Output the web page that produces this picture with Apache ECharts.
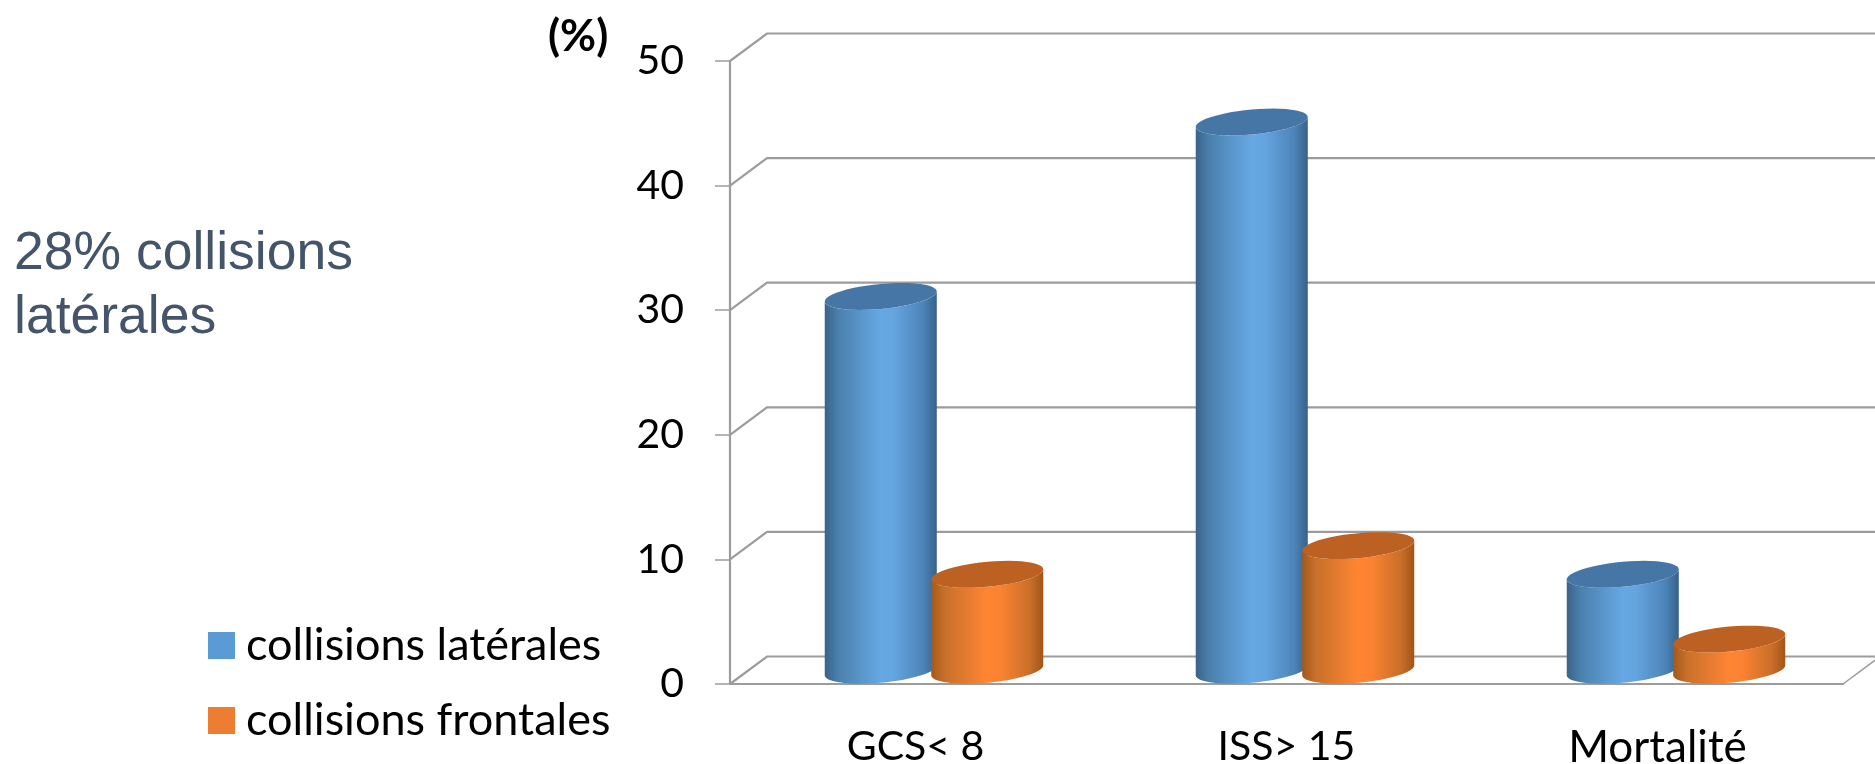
<!DOCTYPE html>
<html>
<head>
<meta charset="utf-8">
<style>html,body{margin:0;padding:0;background:#fff}#chart{width:1875px;height:764px}</style>
<script src="https://cdn.jsdelivr.net/npm/echarts@6/dist/echarts.min.js"></script>
</head>
<body>
<div id="chart"></div>
<script>
const categories = ['GCS< 8', 'ISS> 15', 'Mortalité'];
const collisionsLaterales = [30, 44, 7.7];
const collisionsFrontales = [7.7, 10, 2.5];
const valueTicks = [0, 10, 20, 30, 40, 50];

// Oblique projection of the chart's depth, in pixels.
const DEPTH_X = 37;
const DEPTH_Y = 27.5;
const AXIS_GREY = '#9c9c9c';

const BODY_BLUE = [[0, '#3a6288'], [0.12, '#4a80ad'], [0.5, '#66a8e4'], [0.62, '#64a4df'], [0.88, '#4c84b8'], [1, '#37618a']];
const BODY_ORANGE = [[0, '#a4581c'], [0.12, '#c8702a'], [0.5, '#ff8533'], [0.62, '#fb8232'], [0.88, '#c96f28'], [1, '#a15518']];

function ellipsePoints(cx, cy, rx, ry, tilt, from, to) {
  const pts = [];
  const n = 48;
  for (let i = 0; i <= n; i++) {
    const t = from + (to - from) * i / n;
    pts.push([cx + rx * Math.cos(t), cy + ry * Math.sin(t) - tilt * Math.cos(t)]);
  }
  return pts;
}

// Upright cylinder standing on the floor's mid-depth plane.
function cylinder(side, stops, topColor) {
  return function (params, api) {
    const band = api.size([1, 0])[0];
    const base = api.coord([api.value(0), 0]);
    const head = api.coord([api.value(0), api.value(1)]);
    const rx = band * 0.151;
    const cx = base[0] + DEPTH_X / 2 + side * band * 0.1435;
    const yBase = base[1] - DEPTH_Y / 2;
    const yHead = head[1] - DEPTH_Y / 2;
    const ry = 12.5;
    const tilt = 5;
    const wall = ellipsePoints(cx, yHead, rx, ry, tilt, Math.PI, 0)
      .concat(ellipsePoints(cx, yBase, rx, ry, tilt, 0, Math.PI));
    return {
      type: 'group',
      children: [
        {
          type: 'polygon',
          shape: { points: wall },
          style: {
            fill: new echarts.graphic.LinearGradient(0, 0, 1, 0,
              stops.map(s => ({ offset: s[0], color: s[1] })))
          }
        },
        {
          type: 'polygon',
          shape: { points: ellipsePoints(cx, yHead, rx, ry, tilt, 0, Math.PI * 2) },
          style: { fill: topColor }
        }
      ]
    };
  };
}

// Back wall, left wall and floor lines behind the cylinders.
function wallLines(params, api) {
  const sys = params.coordSys;
  const tick = api.value(1);
  const y = api.coord([0, tick])[1];
  const xL = sys.x, xR = sys.x + sys.width;
  const children = [{
    type: 'polyline',
    shape: { points: [[xL, y], [xL + DEPTH_X, y - DEPTH_Y], [xR + DEPTH_X, y - DEPTH_Y]] },
    style: { fill: 'none', stroke: AXIS_GREY, lineWidth: 2.2 }
  }];
  if (tick === 0) {
    children.push({
      type: 'line',
      shape: { x1: xR, y1: y, x2: xR + DEPTH_X, y2: y - DEPTH_Y },
      style: { stroke: AXIS_GREY, lineWidth: 1.5 }
    });
  }
  return { type: 'group', children };
}

const chart = echarts.init(document.getElementById('chart'), null, { renderer: 'canvas' });
chart.setOption({
  animation: false,
  backgroundColor: '#ffffff',
  title: [
    {
      text: '28% collisions\nlatérales',
      left: 9, top: 217,
      textStyle: { fontFamily: 'Liberation Sans', fontSize: 53.5, fontWeight: 'normal', color: '#44546a', lineHeight: 64 }
    },
    {
      text: '(%)',
      left: 543, top: 7,
      textStyle: { fontFamily: 'Lato', fontSize: 44, fontWeight: 'bold', color: '#000', lineHeight: 50 }
    }
  ],
  legend: {
    orient: 'vertical',
    left: 208, top: 623,
    padding: 0,
    data: ['collisions latérales', 'collisions frontales'],
    icon: 'rect',
    itemWidth: 27, itemHeight: 27, itemGap: 30,
    selectedMode: false,
    textStyle: { fontFamily: 'Lato', fontSize: 45, color: '#000', padding: [0, 0, 0, 6] }
  },
  grid: { left: 730, right: 32, top: 61, bottom: 80, containLabel: false, outerBoundsMode: 'none' },
  xAxis: {
    type: 'category',
    data: categories.map((c, i) => (i === 2 ? { value: c, textStyle: { fontSize: 44 } } : c)),
    axisLine: { lineStyle: { color: AXIS_GREY, width: 2.2 } },
    axisTick: { alignWithLabel: false, length: 15, lineStyle: { color: AXIS_GREY, width: 1.5 } },
    axisLabel: { fontFamily: 'Lato', fontSize: 41, color: '#000', margin: 42 }
  },
  yAxis: {
    type: 'value',
    min: 0, max: 50, interval: 10,
    splitLine: { show: false },
    axisLine: { show: true, lineStyle: { color: AXIS_GREY, width: 2.2 } },
    axisTick: { show: true, length: 15, lineStyle: { color: AXIS_GREY, width: 1.5 } },
    axisLabel: { fontFamily: 'Lato', fontSize: 41, color: '#000', margin: 46, padding: [5, 0, 0, 0] }
  },
  series: [
    {
      type: 'custom',
      name: 'parois',
      silent: true,
      clip: false,
      z: 1,
      data: valueTicks.map(v => [0, v]),
      encode: { x: 0, y: 1 },
      renderItem: wallLines
    },
    {
      type: 'custom',
      name: 'collisions latérales',
      clip: false,
      z: 3,
      itemStyle: { color: '#5b9bd5' },
      data: collisionsLaterales.map((v, i) => [i, v]),
      encode: { x: 0, y: 1 },
      renderItem: cylinder(-1, BODY_BLUE, '#4676a6')
    },
    {
      type: 'custom',
      name: 'collisions frontales',
      clip: false,
      z: 4,
      itemStyle: { color: '#ed7d31' },
      data: collisionsFrontales.map((v, i) => [i, v]),
      encode: { x: 0, y: 1 },
      renderItem: cylinder(1, BODY_ORANGE, '#bd6122')
    }
  ]
});
</script>
</body>
</html>
